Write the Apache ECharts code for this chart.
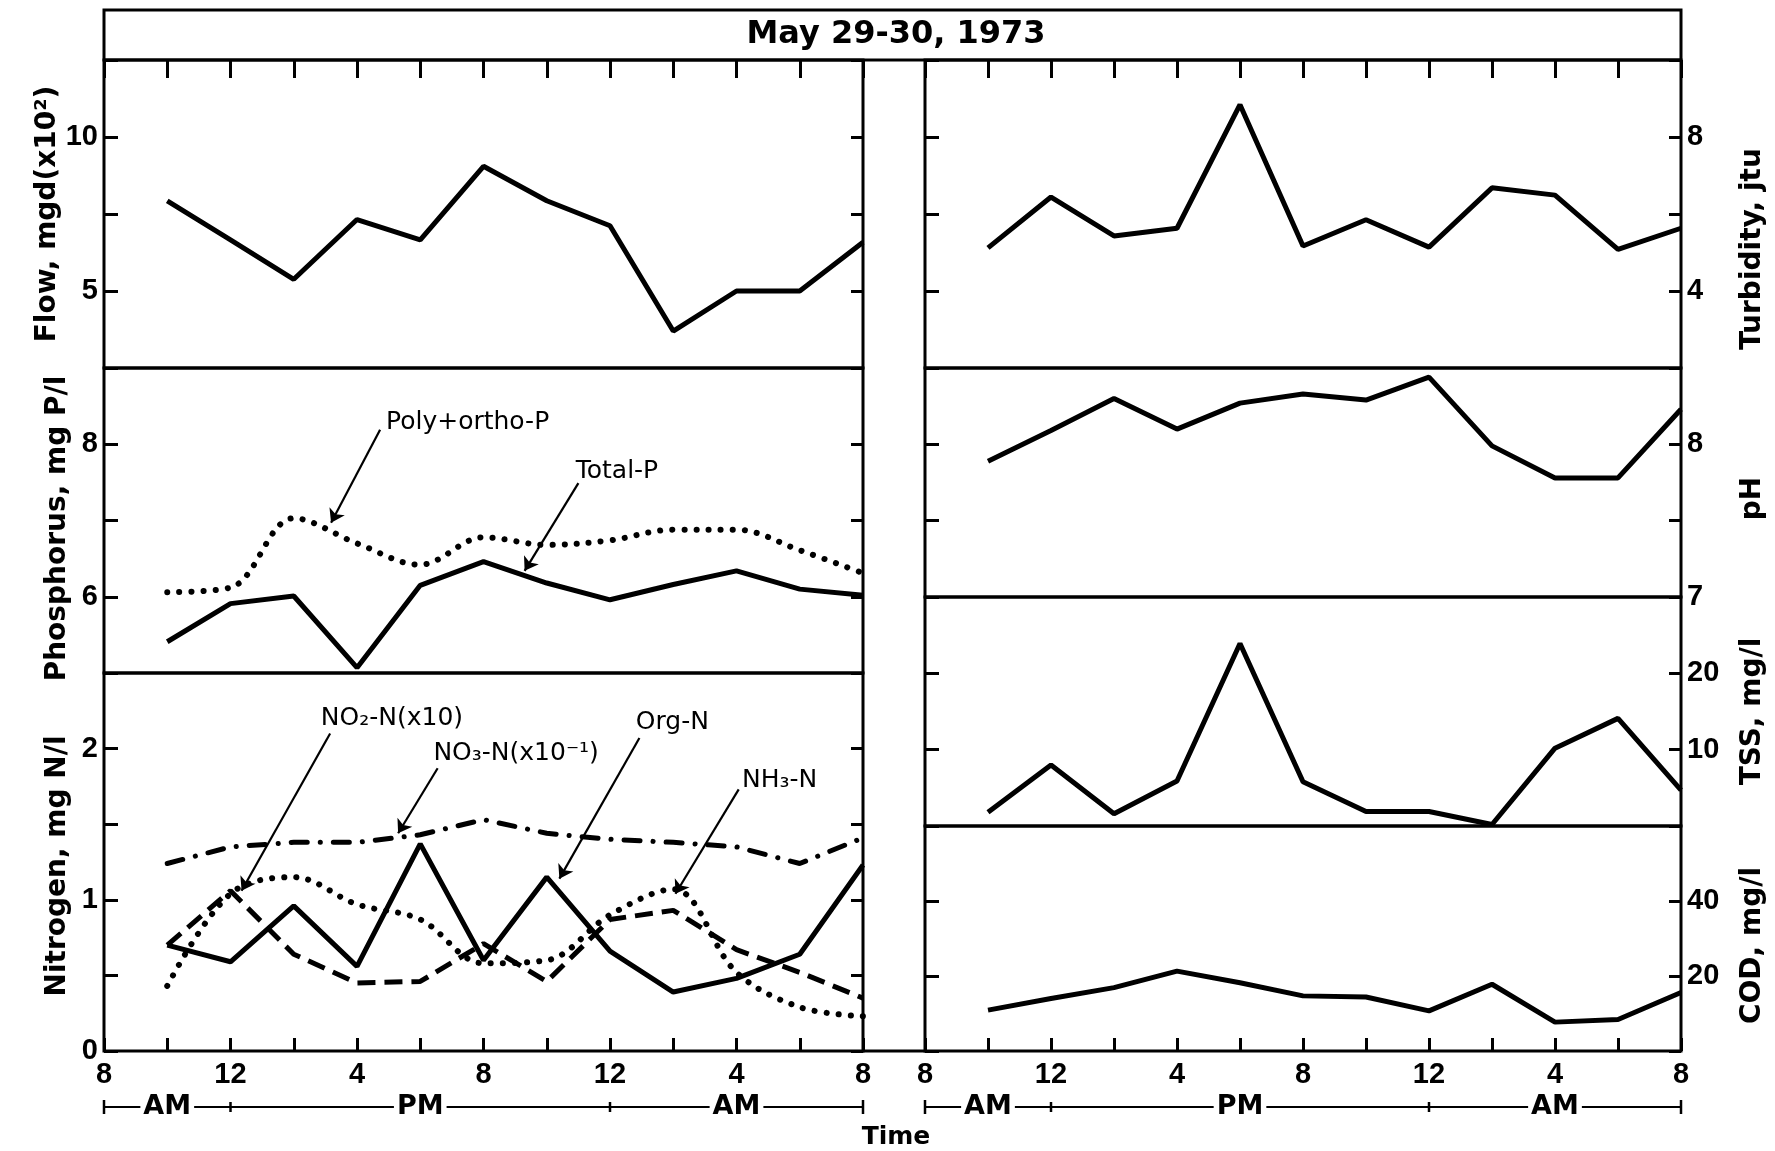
<!DOCTYPE html>
<html>
<head>
<meta charset="utf-8">
<script src="https://cdn.jsdelivr.net/npm/echarts@6/dist/echarts.min.js"></script>
<style>
html, body { margin: 0; padding: 0; background: #fff; }
#main { width: 1775px; height: 1151px; }
</style>
</head>
<body>
<div id="main"></div>
<script>
// sampling times, hours counted from midnight May 29 (10 AM May 29 ... 8 AM May 30)
var hours = [10, 12, 14, 16, 18, 20, 22, 24, 26, 28, 30, 32];
var timeLabels = ['8', '12', '4', '8', '12', '4', '8'];
var ampmLabels = ['AM', 'PM', 'AM'];
var ampmBreaks = [8, 12, 24, 32];

var flow = [7.93, 6.66, 5.38, 7.32, 6.66, 9.05, 7.93, 7.12, 3.70, 5.0, 5.0, 6.58];
var totalP = [5.41, 5.91, 6.01, 5.07, 6.15, 6.46, 6.18, 5.96, 6.16, 6.34, 6.10, 6.02];
var polyOrthoP = [6.06, 6.12, 7.03, 6.70, 6.42, 6.78, 6.68, 6.74, 6.88, 6.88, 6.61, 6.31];
var orgN = [0.70, 0.59, 0.96, 0.56, 1.37, 0.60, 1.15, 0.66, 0.39, 0.48, 0.64, 1.23];
var no3N = [1.24, 1.35, 1.38, 1.38, 1.43, 1.53, 1.44, 1.40, 1.38, 1.35, 1.24, 1.41];
var no2N = [0.70, 1.06, 0.64, 0.45, 0.46, 0.71, 0.46, 0.87, 0.93, 0.67, 0.52, 0.35];
var nh3N = [0.43, 1.04, 1.15, 0.97, 0.87, 0.58, 0.60, 0.90, 1.07, 0.52, 0.29, 0.23];
var turbidity = [5.12, 6.44, 5.43, 5.63, 8.84, 5.17, 5.85, 5.14, 6.68, 6.49, 5.08, 5.63];
var ph = [7.89, 8.09, 8.30, 8.10, 8.27, 8.33, 8.29, 8.44, 7.99, 7.78, 7.78, 8.23];
var tss = [1.8, 8.0, 1.6, 5.9, 23.9, 5.8, 1.9, 1.9, 0.2, 10.2, 14.1, 4.7];
var cod = [10.9, 14.0, 16.9, 21.3, 18.2, 14.7, 14.4, 10.7, 17.8, 7.7, 8.4, 15.6];

// labelled y ticks per panel
var flowTicks = [5, 10];
var phosTicks = [6, 8];
var nitroTicks = [0, 1, 2];
var turbTicks = [4, 8];
var phTicks = [7, 8];
var tssTicks = [10, 20];
var codTicks = [20, 40];

// annotations with leader arrows (data coordinates)
var phosNotes = [
    { text: 'Poly+ortho-P', at: [16.9, 8.28], from: [16.73, 8.19], to: [15.18, 6.97] },
    { text: 'Total-P', at: [22.9, 7.64], from: [23.0, 7.49], to: [21.3, 6.34] }
];
var nitroNotes = [
    { text: 'NO₂-N(x10)', at: [14.84, 2.2], from: [15.15, 2.10], to: [12.35, 1.06] },
    { text: 'NO₃-N(x10⁻¹)', at: [18.4, 1.97], from: [18.55, 1.87], to: [17.3, 1.44] },
    { text: 'Org-N', at: [24.8, 2.17], from: [24.93, 2.07], to: [22.4, 1.14] },
    { text: 'NH₃-N', at: [28.16, 1.79], from: [28.07, 1.73], to: [26.07, 1.04] }
];

var FONT = 'DejaVu Sans';
var TICKFONT = 'Liberation Sans';
var LX = 104, LW = 759, RX = 925, RW = 756;

var panels = [
    { x: LX, w: LW, top: 60, h: 308, side: 'left', min: 2.5, max: 12.5, step: 2.5, ticks: flowTicks, name: 'Flow, mgd(x10²)', xt: 'top', shift: 0 },
    { x: LX, w: LW, top: 368, h: 305, side: 'left', min: 5, max: 9, step: 1, ticks: phosTicks, name: 'Phosphorus, mg P/l', xt: 'none', shift: 8 },
    { x: LX, w: LW, top: 673, h: 378, side: 'left', min: 0, max: 2.5, step: 0.5, ticks: nitroTicks, name: 'Nitrogen, mg N/l', xt: 'bottom', shift: 4 },
    { x: RX, w: RW, top: 60, h: 308, side: 'right', min: 2, max: 10, step: 2, ticks: turbTicks, name: 'Turbidity, jtu', xt: 'top', shift: 35 },
    { x: RX, w: RW, top: 368, h: 229, side: 'right', min: 7, max: 8.5, step: 0.5, ticks: phTicks, name: 'pH', xt: 'none', shift: 16 },
    { x: RX, w: RW, top: 597, h: 229, side: 'right', min: 0, max: 30, step: 10, ticks: tssTicks, name: 'TSS, mg/l', xt: 'none', shift: 0 },
    { x: RX, w: RW, top: 826, h: 225, side: 'right', min: 0, max: 60, step: 20, ticks: codTicks, name: 'COD, mg/l', xt: 'bottom', shift: 7 }
];

function fmtTime(v) {
    var k = (v - 8) / 4;
    return k === Math.round(k) ? timeLabels[k] : '';
}

function fmtY(list) {
    return function (v) {
        for (var i = 0; i < list.length; i++) {
            if (Math.abs(list[i] - v) < 1e-6) return String(list[i]);
        }
        return '';
    };
}

var grids = [], xAxes = [], yAxes = [];
panels.forEach(function (p, i) {
    grids.push({
        left: p.x, top: p.top, width: p.w, height: p.h,
        show: true, borderColor: '#000', borderWidth: 3,
        outerBoundsMode: 'none', containLabel: false
    });
    xAxes.push({
        gridIndex: i, type: 'value', min: 8, max: 32, interval: 2,
        position: p.xt === 'top' ? 'top' : 'bottom',
        axisLine: { show: false }, splitLine: { show: false },
        axisTick: { show: p.xt !== 'none', inside: true, length: p.xt === 'top' ? 18 : 13, lineStyle: { color: '#000', width: 3 } },
        axisLabel: { show: p.xt === 'bottom', margin: 9, fontFamily: TICKFONT, fontWeight: 'bold', fontSize: 29, color: '#000', formatter: fmtTime, showMinLabel: true, showMaxLabel: true }
    });
    ['left', 'right'].forEach(function (side) {
        var own = side === p.side;
        yAxes.push({
            gridIndex: i, type: 'value', position: side,
            min: p.min, max: p.max, interval: p.step,
            axisLine: { show: false }, splitLine: { show: false },
            axisTick: { show: true, inside: true, length: side === 'left' ? 14 : 12, lineStyle: { color: '#000', width: 3 } },
            axisLabel: { show: own, margin: 6, fontFamily: TICKFONT, fontWeight: 'bold', fontSize: 29, color: '#000', formatter: fmtY(p.ticks), showMinLabel: true, showMaxLabel: true },
            name: own ? p.name : '',
            nameLocation: 'middle', nameRotate: 90,
            nameGap: side === 'left' ? 32 : 58,
            nameTextStyle: { fontFamily: FONT, fontWeight: 'bold', fontSize: 28, color: '#000', padding: [0, 2 * p.shift, 0, 0] }
        });
    });
});

function pts(arr) {
    return hours.map(function (h, i) { return [h, arr[i]]; });
}

function yIdx(i) {
    return 2 * i + (panels[i].side === 'left' ? 0 : 1);
}

var solid = { color: '#000', width: 5 };
var dotted = { color: '#000', width: 6, type: [0.1, 12], cap: 'round' };
var dashed = { color: '#000', width: 5, type: [18, 9], cap: 'butt' };
var dashDot = { color: '#000', width: 5, type: [16, 13, 0.1, 13], cap: 'round' };

function notesMarks(notes) {
    return {
        markLine: {
            silent: true, animation: false,
            symbol: ['none', 'arrow'], symbolSize: 13,
            lineStyle: { color: '#000', width: 2.2, type: 'solid' },
            label: { show: false },
            data: notes.map(function (n) { return [{ coord: n.from }, { coord: n.to }]; })
        },
        markPoint: {
            silent: true, animation: false,
            symbol: 'circle', symbolSize: 1,
            itemStyle: { color: 'rgba(0,0,0,0)' },
            label: { show: true, position: 'right', distance: 0, formatter: '{b}', color: '#000', fontFamily: FONT, fontSize: 25 },
            data: notes.map(function (n) { return { name: n.text, coord: n.at }; })
        }
    };
}

function line(name, i, arr, style, smooth, extra) {
    var s = {
        name: name, type: 'line', xAxisIndex: i, yAxisIndex: yIdx(i),
        data: pts(arr), showSymbol: false, smooth: smooth || false,
        lineStyle: style, itemStyle: { color: '#000' }, z: 3
    };
    if (extra) {
        s.markLine = extra.markLine;
        s.markPoint = extra.markPoint;
    }
    return s;
}

var series = [
    line('Flow', 0, flow, solid),
    line('Total-P', 1, totalP, solid, false, notesMarks(phosNotes)),
    line('Poly+ortho-P', 1, polyOrthoP, dotted, 0.35),
    line('Org-N', 2, orgN, solid, false, notesMarks(nitroNotes)),
    line('NO3-N', 2, no3N, dashDot),
    line('NO2-N', 2, no2N, dashed),
    line('NH3-N', 2, nh3N, dotted, 0.35),
    line('Turbidity', 3, turbidity, solid),
    line('pH', 4, ph, solid),
    line('TSS', 5, tss, solid),
    line('COD', 6, cod, solid)
];

var chart = echarts.init(document.getElementById('main'), null, { renderer: 'canvas' });
chart.setOption({
    animation: false,
    backgroundColor: '#fff',
    grid: grids,
    xAxis: xAxes,
    yAxis: yAxes,
    series: series
});

// frame, title band and the AM/PM rows under the time axes
var g = [];
var bottomY = panels[2].top + panels[2].h;
g.push({ type: 'rect', shape: { x: LX, y: 10, width: RX + RW - LX, height: 50 }, style: { fill: 'none', stroke: '#000', lineWidth: 3 }, z: 10 });
g.push({ type: 'text', x: 896, y: 35, style: { text: 'May 29-30, 1973', font: 'bold 32px "DejaVu Sans"', fill: '#000', align: 'center', verticalAlign: 'middle' }, z: 10 });
g.push({ type: 'line', shape: { x1: LX + LW, y1: bottomY, x2: RX, y2: bottomY }, style: { stroke: '#000', lineWidth: 3 }, z: 10 });

[2, 6].forEach(function (ax) {
    var y = 1107;
    var xs = ampmBreaks.map(function (h) { return chart.convertToPixel({ xAxisIndex: ax }, h); });
    g.push({ type: 'line', shape: { x1: xs[0], y1: y, x2: xs[3], y2: y }, style: { stroke: '#000', lineWidth: 2 }, z: 10 });
    [0, 3].forEach(function (k) {
        g.push({ type: 'line', shape: { x1: xs[k], y1: y - 7, x2: xs[k], y2: y + 7 }, style: { stroke: '#000', lineWidth: 2.5 }, z: 10 });
    });
    [1, 2].forEach(function (k) {
        g.push({ type: 'line', shape: { x1: xs[k], y1: y - 5, x2: xs[k], y2: y + 5 }, style: { stroke: '#000', lineWidth: 2.5 }, z: 10 });
    });
    ampmLabels.forEach(function (t, k) {
        g.push({ type: 'text', x: (xs[k] + xs[k + 1]) / 2, y: y, style: { text: t, font: 'bold 27px "DejaVu Sans"', fill: '#000', align: 'center', verticalAlign: 'middle', backgroundColor: '#fff', padding: [0, 3] }, z: 11 });
    });
});
g.push({ type: 'text', x: 896, y: 1137, style: { text: 'Time', font: 'bold 25px "DejaVu Sans"', fill: '#000', align: 'center', verticalAlign: 'middle' }, z: 10 });

chart.setOption({ graphic: g });
</script>
</body>
</html>
